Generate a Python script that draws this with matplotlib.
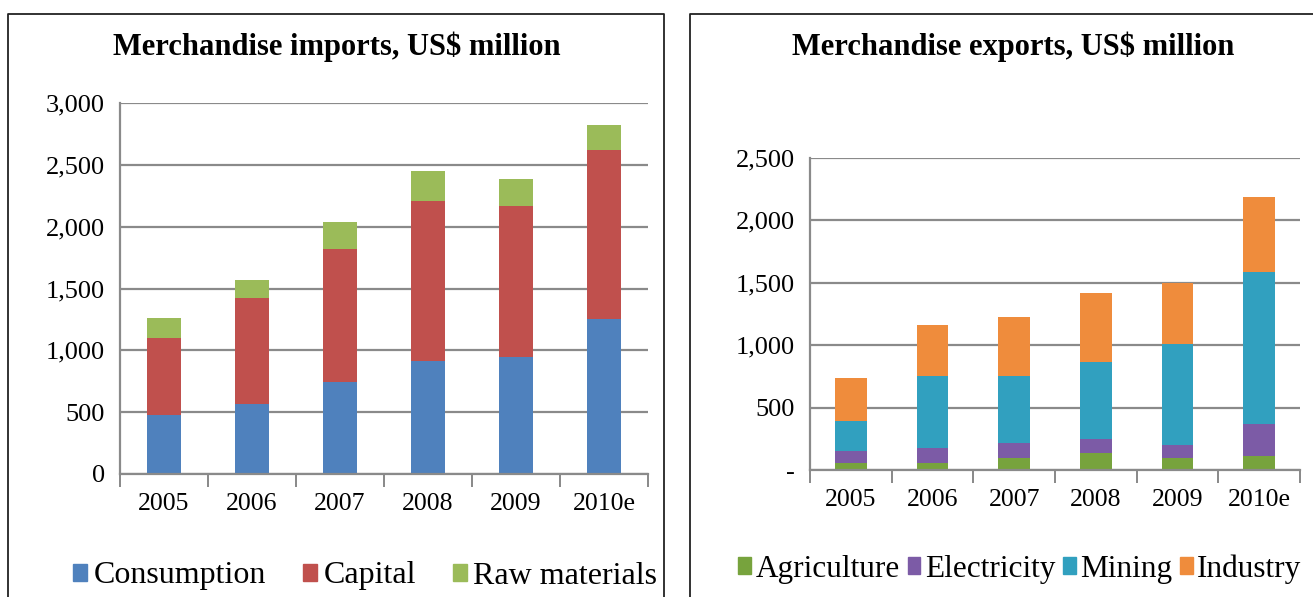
import numpy as np
import matplotlib.pyplot as plt
from matplotlib.patches import Patch
from matplotlib.lines import Line2D
from matplotlib.ticker import FuncFormatter

plt.rcParams['font.family'] = ['Liberation Serif', 'DejaVu Serif']

years = ['2005', '2006', '2007', '2008', '2009', '2010e']

# imports, US$ million
consumption = [480, 570, 740, 910, 950, 1250]
capital = [620, 850, 1080, 1300, 1220, 1370]
raw_materials = [165, 150, 220, 240, 215, 200]

# exports, US$ million
agriculture = [60, 60, 100, 140, 95, 115]
electricity = [95, 120, 120, 105, 105, 255]
mining = [240, 575, 535, 620, 810, 1220]
industry = [340, 410, 470, 555, 485, 595]

imp_colors = ['#4f81bd', '#c0504d', '#9bbb59']
exp_colors = ['#77a33d', '#7c5ba6', '#31a0bf', '#ef8c3c']

fig = plt.figure(figsize=(13.13, 5.97), dpi=100)

# panel frames, open at the bottom
W, H = 1313, 597
def frame(x0, x1, top):
    xs = [x0 / W, x0 / W, x1 / W, x1 / W]
    ys = [0, 1 - top / H, 1 - top / H, 0]
    fig.add_artist(Line2D(xs, ys, color='#222222', lw=1.3))

frame(8, 664, 14)
frame(690, 1320, 14)


def style_axes(ax, ymax, zero_label):
    x = np.arange(len(years))
    ax.set_xlim(-0.5, len(years) - 0.5)
    ax.set_ylim(0, ymax)
    ax.set_yticks(np.arange(0, ymax + 1, 500))
    ax.yaxis.set_major_formatter(FuncFormatter(
        lambda v, p: zero_label if v == 0 else f'{int(v):,}'))
    ax.set_xticks(x)
    ax.set_xticklabels(years)
    ax.set_xticks(np.arange(-0.5, len(years)), minor=True)
    ax.tick_params(axis='x', which='major', length=0, pad=14, labelsize=18.5)
    ax.tick_params(axis='x', which='minor', length=9, width=1.3, color='#7f7f7f')
    ax.tick_params(axis='y', length=0, pad=11, labelsize=19)
    ax.grid(axis='y', color='#8a8a8a', lw=1.6)
    ax.set_axisbelow(True)
    for s in ['top', 'right']:
        ax.spines[s].set_visible(False)
    for s in ['left', 'bottom']:
        ax.spines[s].set_color('#8a8a8a')
        ax.spines[s].set_linewidth(1.6)


# imports
ax1 = fig.add_axes([120 / W, 1 - 474 / H, 528 / W, 371 / H])
x = np.arange(len(years))
bottom = np.zeros(len(years))
for vals, c in zip([consumption, capital, raw_materials], imp_colors):
    ax1.bar(x, vals, bottom=bottom, width=0.38, color=c)
    bottom += np.array(vals)
style_axes(ax1, 3000, '0')
fig.text(337 / W, 1 - 47 / H, 'Merchandise imports, US$ million',
         ha='center', va='center', fontsize=22, fontweight='bold')
h1 = [Patch(color=c) for c in imp_colors]
fig.legend(h1, ['Consumption', 'Capital', 'Raw materials'],
           loc='center', bbox_to_anchor=(365 / W, 1 - 576 / H), ncol=3,
           frameon=False, fontsize=23, handlelength=0.45, handleheight=0.45,
           handletextpad=0.2, columnspacing=1.15, borderpad=0)

# exports
ax2 = fig.add_axes([810 / W, 1 - 470 / H, 490 / W, 312 / H])
bottom = np.zeros(len(years))
for vals, c in zip([agriculture, electricity, mining, industry], exp_colors):
    ax2.bar(x, vals, bottom=bottom, width=0.39, color=c)
    bottom += np.array(vals)
style_axes(ax2, 2500, '-')
fig.text(1013 / W, 1 - 47 / H, 'Merchandise exports, US$ million',
         ha='center', va='center', fontsize=22, fontweight='bold')
h2 = [Patch(color=c) for c in exp_colors]
fig.legend(h2, ['Agriculture', 'Electricity', 'Mining', 'Industry'],
           loc='center', bbox_to_anchor=(1020 / W, 1 - 569 / H), ncol=4,
           frameon=False, fontsize=22.5, handlelength=0.4, handleheight=0.45,
           handletextpad=0.15, columnspacing=0.25, borderpad=0)

fig.savefig('out.png', dpi=100)
